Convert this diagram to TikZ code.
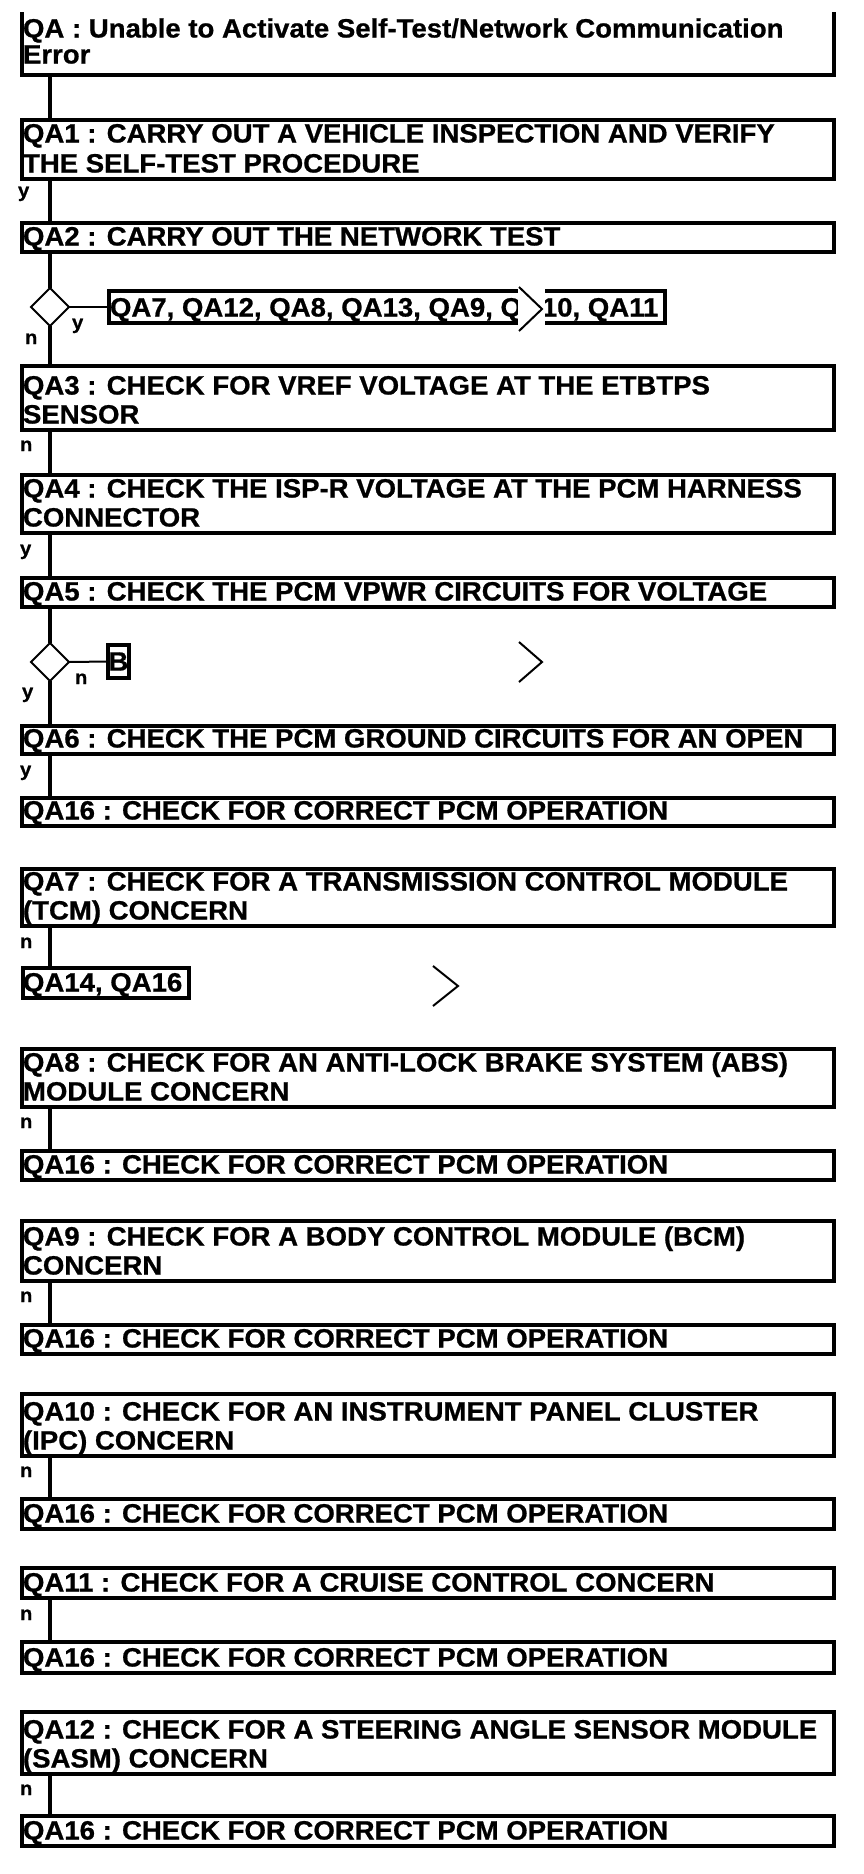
\documentclass[tikz,border=0pt]{standalone}
\usepackage{fontspec}
\setmainfont{Liberation Sans}[FakeStretch=1.04, BoldFeatures={FakeBold=0.8}]
\usetikzlibrary{shapes.geometric}
\begin{document}
\begin{tikzpicture}[x=1pt,y=-1pt,
  box/.style={draw, line width=4pt, inner sep=0pt, outer sep=0pt, minimum width=812pt},
  txt/.style={inner sep=0pt, outer sep=0pt, anchor=base west, yshift=1.5pt, font=\fontsize{26.5}{29}\selectfont\bfseries},
  lab/.style={inner sep=0pt, outer sep=0pt, anchor=base west, font=\fontsize{19.5}{19.5}\selectfont\bfseries},
  conn/.style={line width=4pt},
  thinline/.style={line width=2pt},
  dia/.style={diamond, draw, line width=2pt, aspect=1, minimum width=38pt, minimum height=38pt, inner sep=0pt, outer sep=0pt},
  chev/.style={line width=2pt, line join=miter}
]
\useasboundingbox (0,0) rectangle (864,1874);
\coordinate (col) at (50,0);

% QA (top cut off)
\node[inner sep=0pt, outer sep=0pt, minimum width=812pt, minimum height=63pt] (qa) at (428,43.5) {};
\draw[line width=4pt] (qa.north west) -- (qa.south west) -- (qa.south east) -- (qa.north east);
\node[txt] (t0a) at (23,39) {QA : Unable to Activate Self-Test/Network Communication};
\node[txt] (t0b) at (23,65) {Error};

% QA1
\node[box, minimum height=59pt] (qa1) at (428,149.5) {};
\node[txt] (t1a) at (23,144) {QA1 : CARRY OUT A VEHICLE INSPECTION AND VERIFY};
\node[txt] (t1b) at (23,174) {THE SELF-TEST PROCEDURE};
\node[lab] (l1) at (18,197) {y};

% QA2
\node[box, minimum height=29pt] (qa2) at (428,237.5) {};
\node[txt] (t2) at (23,247) {QA2 : CARRY OUT THE NETWORK TEST};

% decision 1
\node[dia] (d1) at (50,307) {};
\node[box, minimum width=556pt, minimum height=32pt] (lst) at (387,307) {};
\node[txt] (tl) at (110,318) {QA7, QA12, QA8, QA13, QA9, QA10, QA11};
\node[lab] (l2) at (72,329) {y};
\node[lab] (l3) at (25,344) {n};
\fill[white] (518,284) rectangle (545,334);
\draw[chev] (519,287) -- (542,309) -- (519,331);

% QA3
\node[box, minimum height=64pt] (qa3) at (428,398) {};
\node[txt] (t3a) at (23,396) {QA3 : CHECK FOR VREF VOLTAGE AT THE ETBTPS};
\node[txt] (t3b) at (23,425) {SENSOR};
\node[lab] (l4) at (20,451) {n};

% QA4
\node[box, minimum height=58pt] (qa4) at (428,504) {};
\node[txt] (t4a) at (23,499) {QA4 : CHECK THE ISP-R VOLTAGE AT THE PCM HARNESS};
\node[txt] (t4b) at (23,528) {CONNECTOR};
\node[lab] (l5) at (20,555) {y};

% QA5
\node[box, minimum height=29pt] (qa5) at (428,592.5) {};
\node[txt] (t5) at (23,602) {QA5 : CHECK THE PCM VPWR CIRCUITS FOR VOLTAGE};

% decision 2
\node[dia] (d2) at (50,662) {};
\node[box, minimum width=21pt, minimum height=33pt, font=\fontsize{26.5}{29}\selectfont\bfseries] (bb) at (118.5,661.5) {B};
\node[lab] (l6) at (75,684) {n};
\node[lab] (l7) at (22,698) {y};
\draw[chev] (519,642) -- (542,662) -- (519,682);

% QA6
\node[box, minimum height=28pt] (qa6) at (428,740) {};
\node[txt] (t6) at (23,749) {QA6 : CHECK THE PCM GROUND CIRCUITS FOR AN OPEN};
\node[lab] (l8) at (20,776) {y};

% QA16
\node[box, minimum height=28pt] (q16a) at (428,812) {};
\node[txt] (t16a) at (23,821) {QA16 : CHECK FOR CORRECT PCM OPERATION};

% QA7
\node[box, minimum height=57pt] (qa7) at (428,897.5) {};
\node[txt] (t7a) at (23,892) {QA7 : CHECK FOR A TRANSMISSION CONTROL MODULE};
\node[txt] (t7b) at (23,921) {(TCM) CONCERN};
\node[lab] (l9) at (20,948) {n};
\node[box, minimum width=166pt, minimum height=30pt] (q14) at (106,983) {};
\node[txt] (t14) at (23,993) {QA14, QA16};
\draw[chev] (433,966) -- (458,986) -- (433,1006);

% QA8
\node[box, minimum height=58pt] (qa8) at (428,1078) {};
\node[txt] (t8a) at (23,1073) {QA8 : CHECK FOR AN ANTI-LOCK BRAKE SYSTEM (ABS)};
\node[txt] (t8b) at (23,1102) {MODULE CONCERN};
\node[lab] (l10) at (20,1128) {n};
\node[box, minimum height=29pt] (q16b) at (428,1165.5) {};
\node[txt] (t16b) at (23,1175) {QA16 : CHECK FOR CORRECT PCM OPERATION};

% QA9
\node[box, minimum height=60pt] (qa9) at (428,1251) {};
\node[txt] (t9a) at (23,1247) {QA9 : CHECK FOR A BODY CONTROL MODULE (BCM)};
\node[txt] (t9b) at (23,1276) {CONCERN};
\node[lab] (l11) at (20,1302) {n};
\node[box, minimum height=29pt] (q16c) at (428,1339.5) {};
\node[txt] (t16c) at (23,1349) {QA16 : CHECK FOR CORRECT PCM OPERATION};

% QA10
\node[box, minimum height=62pt] (qa10) at (428,1425) {};
\node[txt] (t10a) at (23,1422) {QA10 : CHECK FOR AN INSTRUMENT PANEL CLUSTER};
\node[txt] (t10b) at (23,1451) {(IPC) CONCERN};
\node[lab] (l12) at (20,1477) {n};
\node[box, minimum height=30pt] (q16d) at (428,1514) {};
\node[txt] (t16d) at (23,1524) {QA16 : CHECK FOR CORRECT PCM OPERATION};

% QA11
\node[box, minimum height=30pt] (qa11) at (428,1583) {};
\node[txt] (t11) at (23,1593) {QA11 : CHECK FOR A CRUISE CONTROL CONCERN};
\node[lab] (l13) at (20,1620) {n};
\node[box, minimum height=31pt] (q16e) at (428,1657.5) {};
\node[txt] (t16e) at (23,1668) {QA16 : CHECK FOR CORRECT PCM OPERATION};

% QA12
\node[box, minimum height=62pt] (qa12) at (428,1743) {};
\node[txt] (t12a) at (23,1740) {QA12 : CHECK FOR A STEERING ANGLE SENSOR MODULE};
\node[txt] (t12b) at (23,1769) {(SASM) CONCERN};
\node[lab] (l14) at (20,1795) {n};
\node[box, minimum height=30pt] (q16f) at (428,1831) {};
\node[txt] (t16f) at (23,1841) {QA16 : CHECK FOR CORRECT PCM OPERATION};

% connectors
\draw[conn] (qa.south -| col) -- (qa1.north -| col);
\draw[conn] (qa1.south -| col) -- (qa2.north -| col);
\draw[conn] (qa2.south -| col) -- (d1.north);
\draw[conn] (d1.south) -- (qa3.north -| col);
\draw[thinline] (d1.east) -- (lst.west);
\draw[conn] (qa3.south -| col) -- (qa4.north -| col);
\draw[conn] (qa4.south -| col) -- (qa5.north -| col);
\draw[conn] (qa5.south -| col) -- (d2.north);
\draw[conn] (d2.south) -- (qa6.north -| col);
\draw[thinline] (d2.east) -- (bb.west);
\draw[conn] (qa6.south -| col) -- (q16a.north -| col);
\draw[conn] (qa7.south -| col) -- (q14.north -| col);
\draw[conn] (qa8.south -| col) -- (q16b.north -| col);
\draw[conn] (qa9.south -| col) -- (q16c.north -| col);
\draw[conn] (qa10.south -| col) -- (q16d.north -| col);
\draw[conn] (qa11.south -| col) -- (q16e.north -| col);
\draw[conn] (qa12.south -| col) -- (q16f.north -| col);
\end{tikzpicture}
\end{document}
